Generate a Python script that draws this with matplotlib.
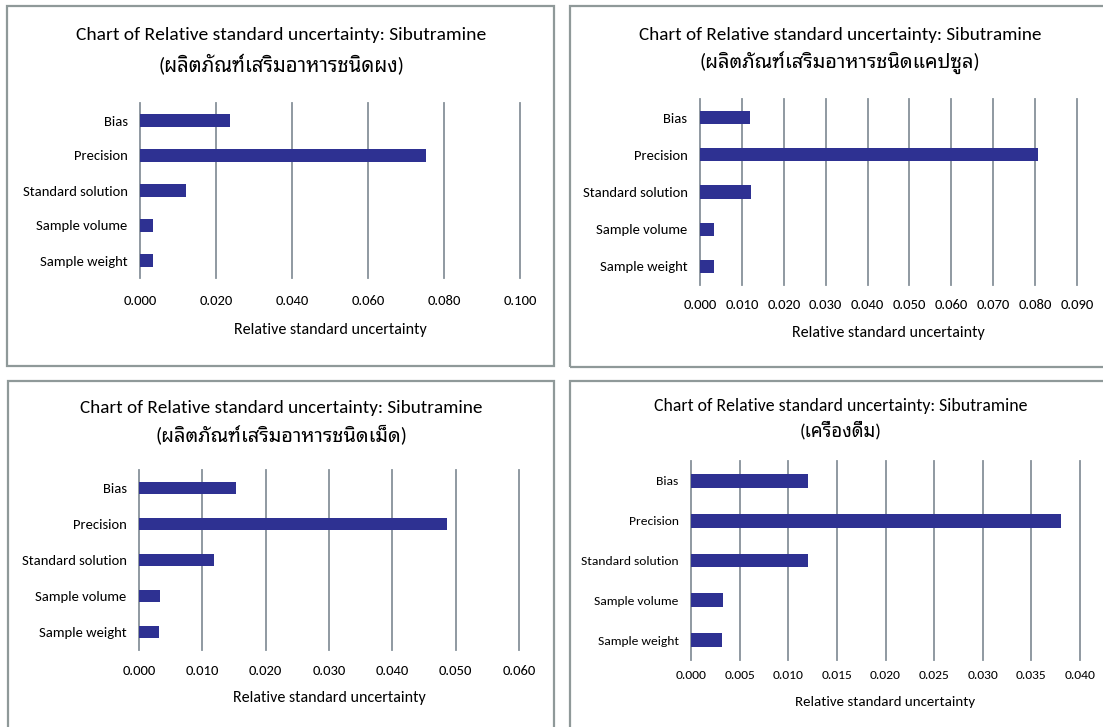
import matplotlib.pyplot as plt
from matplotlib.patches import Rectangle
from matplotlib.ticker import MultipleLocator, FormatStrFormatter

plt.rcParams['font.family'] = ['Carlito', 'Noto Sans Thai Looped', 'DejaVu Sans']

W, H = 1103, 727

CATEGORIES = ['Bias', 'Precision', 'Standard solution', 'Sample volume', 'Sample weight']

POWDER = [0.0238, 0.0753, 0.0120, 0.0034, 0.0034]
CAPSULE = [0.0120, 0.0806, 0.0121, 0.0034, 0.0034]
TABLET = [0.0153, 0.0486, 0.0119, 0.0033, 0.0032]
DRINK = [0.0120, 0.0380, 0.0120, 0.0033, 0.0032]

TITLE = 'Chart of Relative standard uncertainty: Sibutramine'
SUBTITLES = [
    '(ผลิตภัณฑ์เสริมอาหารชนิดผง)',
    '(ผลิตภัณฑ์เสริมอาหารชนิดแคปซูล)',
    '(ผลิตภัณฑ์เสริมอาหารชนิดเม็ด)',
    '(เครื่องดื่ม)',
]
XLABEL = 'Relative standard uncertainty'

BAR_COLOR = '#2e3192'
GRID_COLOR = '#87919a'
FRAME_COLOR = '#8f9999'
TEXT_COLOR = '#000000'

# pixel layout per panel: frame box, plot area, title line centres, tick/label rows
PANELS = [
    dict(values=POWDER, xmax=0.10, step=0.02, sub=SUBTITLES[0],
         frame=(7, 6, 554, 366), plot=(140, 103, 520, 278),
         title_x=281, title_y=(35, 65), tick_y=302, label_y=330, title_fs=14, fs=10.5),
    dict(values=CAPSULE, xmax=0.09, step=0.01, sub=SUBTITLES[1],
         frame=(570, 6, 1112, 367), plot=(700, 99, 1077, 285),
         title_x=840, title_y=(35, 63), tick_y=306, label_y=333, title_fs=13.8, fs=10.5),
    dict(values=TABLET, xmax=0.06, step=0.01, sub=SUBTITLES[2],
         frame=(8, 381, 554, 740), plot=(139, 470, 519, 650),
         title_x=281, title_y=(408, 435), tick_y=672, label_y=698, title_fs=13.8, fs=10.5),
    dict(values=DRINK, xmax=0.04, step=0.005, sub=SUBTITLES[3],
         frame=(570, 381, 1112, 740), plot=(691, 461, 1080, 660),
         title_x=841, title_y=(406, 430), tick_y=677, label_y=702, title_fs=12.8, fs=9.7),
]


def fx(x):
    return x / W


def fy(y):
    return 1 - y / H


fig = plt.figure(figsize=(W / 100, H / 100), dpi=100)

for p in PANELS:
    x0, y0, x1, y1 = p['frame']
    fig.add_artist(Rectangle((fx(x0), fy(y1)), fx(x1 - x0), (y1 - y0) / H,
                             transform=fig.transFigure, fill=False,
                             edgecolor=FRAME_COLOR, linewidth=1.6))

    px0, py0, px1, py1 = p['plot']
    ax = fig.add_axes([fx(px0), fy(py1), fx(px1 - px0), (py1 - py0) / H])
    ax.barh(range(len(CATEGORIES)), p['values'], height=0.35, color=BAR_COLOR, zorder=2)
    ax.set_ylim(len(CATEGORIES) - 0.5, -0.5)
    ax.set_xlim(0, p['xmax'])
    ax.set_yticks(range(len(CATEGORIES)))
    ax.set_yticklabels(CATEGORIES)
    ax.xaxis.set_major_locator(MultipleLocator(p['step']))
    ax.xaxis.set_major_formatter(FormatStrFormatter('%.3f'))
    ax.grid(axis='x', color=GRID_COLOR, linewidth=1.3, zorder=1)
    for gl in ax.get_xgridlines():
        gl.set_clip_on(False)
    ax.set_axisbelow(True)
    for s in ax.spines.values():
        s.set_visible(False)

    fs_px = p['fs'] * 100 / 72
    tick_pad = (p['tick_y'] - py1 - fs_px * 0.5) * 0.72
    ax.tick_params(axis='x', length=0, pad=tick_pad, labelsize=p['fs'], labelcolor=TEXT_COLOR)
    ax.tick_params(axis='y', length=0, pad=9, labelsize=p['fs'], labelcolor=TEXT_COLOR)

    ax.set_xlabel(XLABEL, fontsize=p['fs'] + 1, color=TEXT_COLOR)
    ax.xaxis.set_label_coords(0.5, -(p['label_y'] - py1) / (py1 - py0))
    ax.xaxis.label.set_va('center')

    fig.text(fx(p['title_x']), fy(p['title_y'][0]), TITLE, ha='center', va='center',
             fontsize=p['title_fs'], color=TEXT_COLOR)
    fig.text(fx(p['title_x']), fy(p['title_y'][1]), p['sub'], ha='center', va='center',
             fontsize=p['title_fs'] * 1.04, color=TEXT_COLOR)

fig.savefig('out.png', dpi=100)
plt.close(fig)
